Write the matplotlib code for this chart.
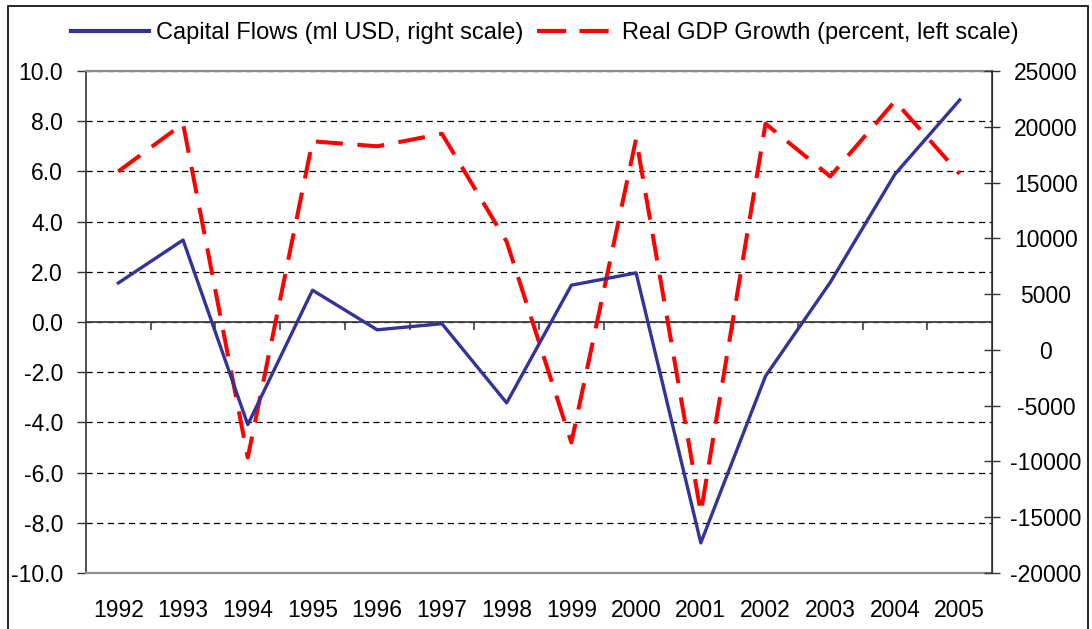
import numpy as np
import matplotlib
matplotlib.use("Agg")
import matplotlib.pyplot as plt
from matplotlib.lines import Line2D
from matplotlib.patches import Rectangle

# Data
years = ["1992", "1993", "1994", "1995", "1996", "1997", "1998",
         "1999", "2000", "2001", "2002", "2003", "2004", "2005"]
gdp_growth = [6.0, 7.9, -5.4, 7.2, 7.0, 7.5, 3.2,
              -4.8, 7.3, -7.6, 7.9, 5.8, 8.8, 5.9]          # percent, left scale
capital_flows = [6000, 9850, -6700, 5350, 1800, 2350, -4750,
                 5800, 6900, -17300, -2350, 6050, 15750, 22400]  # ml USD, right scale

left_ticks = np.arange(-10, 10.1, 2)
right_ticks = np.arange(-20000, 25001, 5000)

plt.rcParams['font.family'] = ['Liberation Sans', 'DejaVu Sans']

blue = "#333399"
red = "#FF0000"

fig = plt.figure(figsize=(10.92, 6.29), dpi=100)
ax = fig.add_axes([0.07875, 0.08903, 0.8297, 0.7981])
x = np.arange(len(years))

# left axis: GDP growth
ax.set_xlim(-0.5, len(years) - 0.5)
ax.set_ylim(-10, 10)
ax.set_yticks(left_ticks)
ax.set_yticklabels([f"{v:.1f}" for v in left_ticks])
ax.tick_params(axis='y', direction='out', length=6.5, width=1, color='#333333',
               labelsize=16.5, pad=10)
ax.set_xticks(x)
ax.set_xticklabels(years)
ax.tick_params(axis='x', length=0, labelsize=16.5, pad=19)
ax.grid(axis='y', color='black', linewidth=0.9, linestyle=(0, (5, 3.5)))
ax.set_axisbelow(True)

# category axis crossing at zero, with tick marks between categories
ax.axhline(0, color='#404040', linewidth=1.3, zorder=1.5)
ax.vlines(np.arange(0.5, len(years) - 0.5, 1), -0.33, 0, color='#404040',
          linewidth=1.2, zorder=1.5)

for side in ['top', 'bottom']:
    ax.spines[side].set_color('#8c8c8c')
    ax.spines[side].set_linewidth(1.6)
ax.spines['left'].set_color('#333333')
ax.spines['left'].set_linewidth(1.2)

gdp_line, = ax.plot(x, gdp_growth, color=red, linewidth=2.9,
                    linestyle=(0, (6.7, 3.6)), zorder=3)

# right axis: capital flows
ax2 = ax.twinx()
ax2.set_ylim(-20000, 25000)
ax2.set_yticks(right_ticks)
ax2.set_yticklabels([str(v) for v in right_ticks])
ax2.tick_params(axis='y', direction='inout', length=11.5, width=1, color='#333333',
                labelsize=16.5, pad=33)
for lab in ax2.get_yticklabels():
    lab.set_horizontalalignment('center')
ax2.spines['right'].set_color('#333333')
ax2.spines['right'].set_linewidth(1.2)
ax2.spines['top'].set_visible(False)
ax2.spines['bottom'].set_visible(False)
ax2.spines['left'].set_visible(False)

cap_line, = ax2.plot(x, capital_flows, color=blue, linewidth=2.4, zorder=2)

handles = [Line2D([], [], color=blue, linewidth=3.0),
           Line2D([], [], color=red, linewidth=3.0, linestyle=(0, (7, 3.2)))]
labels = ["Capital Flows (ml USD, right scale)", "Real GDP Growth (percent, left scale)"]
fig.legend(handles, labels, loc='center', bbox_to_anchor=(0.499, 0.9475), ncol=2,
           frameon=False, fontsize=17, handlelength=3.3, handletextpad=0.3,
           columnspacing=0.55, borderpad=0)

# outer chart border
fig.patches.append(Rectangle((7.5 / 1092, -0.02), (1088 - 7.5) / 1092, 1.02 - 6 / 629,
                             transform=fig.transFigure, fill=False,
                             edgecolor='black', linewidth=1.2))

fig.savefig("out.png", dpi=100)
